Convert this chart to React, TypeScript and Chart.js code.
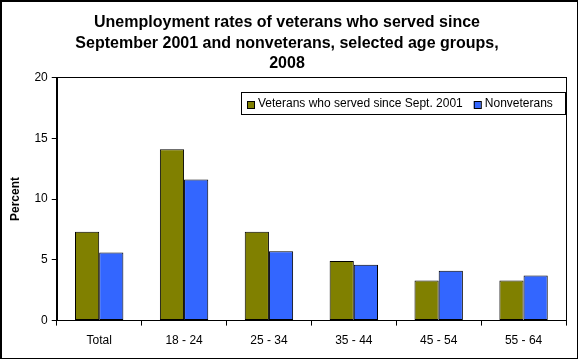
import React, { useEffect, useRef } from "react";
import { Chart, registerables } from "chart.js";

Chart.register(...registerables);

const titleLines = [
  "Unemployment rates of veterans who served since",
  "September 2001 and nonveterans, selected age groups,",
  "2008",
];
const categories = ["Total", "18 - 24", "25 - 34", "35 - 44", "45 - 54", "55 - 64"];
const veterans = [7.3, 14.1, 7.3, 4.9, 3.3, 3.3];
const nonveterans = [5.6, 11.6, 5.7, 4.6, 4.1, 3.7];
const seriesLabels = ["Veterans who served since Sept. 2001", "Nonveterans"];
const seriesColors = ["#808000", "#3366FF"];
const yTicks = [0, 5, 10, 15, 20];

const FONT = "'Liberation Sans', Arial, sans-serif";

const framePlugin = {
  id: "frame",
  afterDraw(chart: any) {
    const ctx = chart.ctx;
    const a = chart.chartArea;
    ctx.save();
    ctx.strokeStyle = "#000";
    ctx.lineWidth = 1;
    ctx.strokeRect(Math.round(a.left) + 0.5, Math.round(a.top) + 0.5, Math.round(a.right - a.left), Math.round(a.bottom - a.top));
    // outer border
    ctx.strokeRect(0.5, 0.5, chart.width - 3, chart.height - 2);
    ctx.strokeRect(1.5, 1.5, chart.width - 4, chart.height - 3);

    // legend (inside plot area, top right)
    ctx.font = `12px ${FONT}`;
    const sq = 7;
    const gapBoxText = 4;
    const gapItems = 11;
    const padL = 6;
    const padR = 12;
    const widths = seriesLabels.map((s) => ctx.measureText(s).width);
    const total = padL + widths.reduce((s, w) => s + sq + gapBoxText + w, 0) + gapItems * (seriesLabels.length - 1) + padR;
    const right = Math.round(a.right) - 1;
    const left = right - Math.round(total);
    const top = Math.round(a.top) + 15;
    const h = 22;
    ctx.fillStyle = "#fff";
    ctx.fillRect(left, top, right - left, h);
    ctx.strokeRect(left + 0.5, top + 0.5, right - left, h);
    let x = left + padL;
    const cy = top + h / 2 + 1;
    ctx.textBaseline = "middle";
    ctx.textAlign = "left";
    seriesLabels.forEach((s, i) => {
      ctx.fillStyle = seriesColors[i];
      ctx.fillRect(x, Math.round(cy - sq / 2), sq, sq);
      ctx.strokeRect(x + 0.5, Math.round(cy - sq / 2) + 0.5, sq, sq);
      x += sq + gapBoxText;
      ctx.fillStyle = "#000";
      ctx.fillText(s, x, cy);
      x += widths[i] + gapItems;
    });
    ctx.restore();
  },
};

export default function App() {
  const ref = useRef<HTMLCanvasElement>(null);
  useEffect(() => {
    document.body.style.margin = "0";
    const canvas = ref.current!;
    const chart = new Chart(canvas, {
      type: "bar",
      data: {
        labels: categories,
        datasets: [
          {
            label: seriesLabels[0],
            data: veterans,
            backgroundColor: seriesColors[0],
            borderColor: "#000",
            borderWidth: 1,
            borderSkipped: false,
            categoryPercentage: 0.57,
            barPercentage: 1,
          },
          {
            label: seriesLabels[1],
            data: nonveterans,
            backgroundColor: seriesColors[1],
            borderColor: "#000",
            borderWidth: 1,
            borderSkipped: false,
            categoryPercentage: 0.57,
            barPercentage: 1,
          },
        ],
      },
      options: {
        responsive: false,
        animation: false,
        devicePixelRatio: 1,
        layout: { padding: { left: 8, right: 14, top: 2, bottom: 4 } },
        plugins: {
          title: {
            display: true,
            text: titleLines,
            color: "#000",
            font: { family: FONT, size: 16, weight: "bold", lineHeight: 1.3 },
            padding: { top: 10, bottom: 3 },
          },
          legend: { display: false },
          tooltip: { enabled: false },
        },
        scales: {
          x: {
            grid: { display: true, drawOnChartArea: false, tickLength: 5, color: "#000", offset: true },
            border: { color: "#000" },
            ticks: { color: "#000", font: { family: FONT, size: 12 }, padding: 8 },
          },
          y: {
            min: 0,
            max: 20,
            afterBuildTicks: (axis: any) => {
              axis.ticks = yTicks.map((v) => ({ value: v }));
            },
            grid: { display: true, drawOnChartArea: false, tickLength: 5, color: "#000" },
            border: { color: "#000" },
            ticks: { color: "#000", font: { family: FONT, size: 12 }, padding: 4 },
            title: {
              display: true,
              text: "Percent",
              color: "#000",
              font: { family: FONT, size: 12, weight: "bold" },
              padding: { top: 0, bottom: 8 },
            },
          },
        },
      },
      plugins: [framePlugin],
    });
    return () => chart.destroy();
  }, []);
  return <canvas ref={ref} width={580} height={360} style={{ display: "block" }} />;
}
